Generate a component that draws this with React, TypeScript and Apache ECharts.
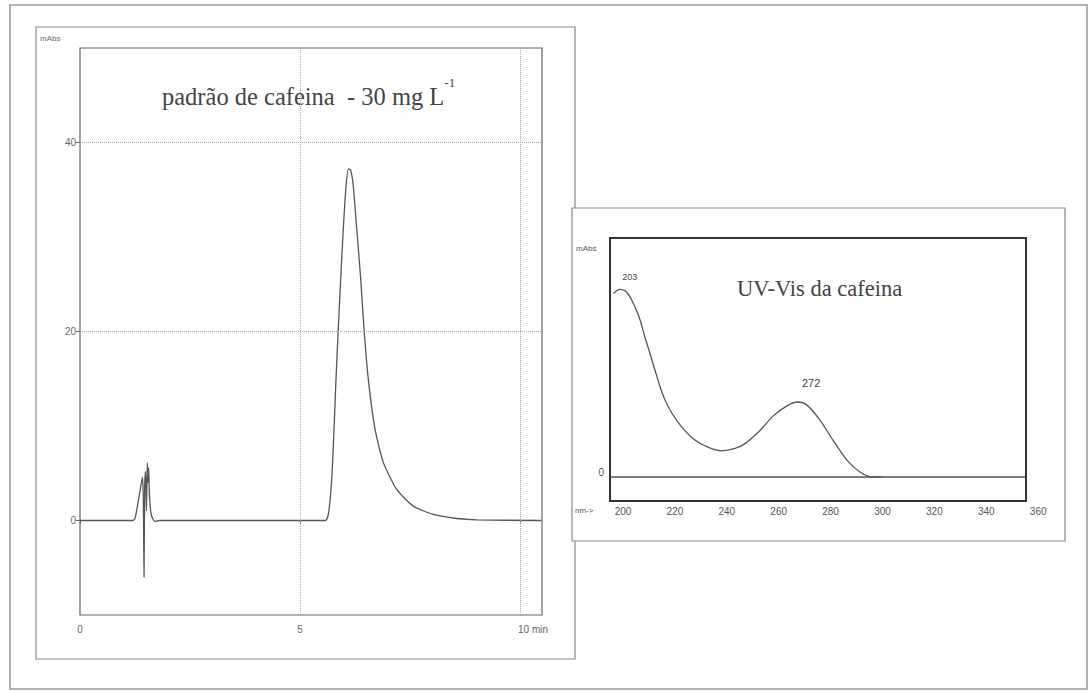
import React, { useEffect, useRef } from "react";
import * as echarts from "echarts";

// Chromatogram (time in min, absorbance in mAbs)
const chromTimes = [0, 1.2, 1.25, 1.36, 1.42, 1.44, 1.455, 1.47, 1.49, 1.51, 1.53, 1.545, 1.56, 1.58, 1.62, 1.7, 1.8, 3.0, 4.5, 5.58, 5.65, 5.72, 5.773, 5.818, 5.87, 5.925, 5.984, 6.045, 6.1, 6.15, 6.211, 6.289, 6.38, 6.455, 6.552, 6.705, 6.893, 7.198, 7.575, 8.03, 8.56, 9.016, 10.48];
const chromValues = [0, 0, 0.2, 3.0, 4.6, 2.0, -6.0, 3.5, 5.2, 1.0, 6.1, 4.0, 5.6, 2.5, 0.6, -0.1, 0, 0, 0, 0, 0.8, 4.35, 9.66, 14.96, 20.27, 25.57, 30.87, 35.3, 37.2, 37.1, 35.4, 30.87, 25.57, 20.27, 14.96, 9.66, 6.15, 3.29, 1.52, 0.64, 0.21, 0.07, 0];
const chromXTicks = [0, 5, 10];
const chromYTicks = [0, 20, 40];
const chromGridX = [5, 10];
const chromGridY = [20, 40];

// UV-Vis spectrum (wavelength nm, absorbance)
const specNm = [196.3, 198.8, 200.8, 202.7, 204.6, 206.6, 208.5, 210.4, 212.3, 214.3, 216.2, 218.8, 222.6, 227.7, 232.9, 238.0, 243.2, 247.0, 252.8, 257.8, 263.2, 267.1, 270.9, 275.9, 280.9, 286.3, 291.3, 296.3, 300.2];
const specAbs = [76.8, 78.5, 77.9, 75.4, 71.2, 65.7, 58.4, 51.7, 44.8, 37.8, 32.2, 26.8, 21.0, 15.5, 12.4, 11.0, 12.0, 14.0, 19.5, 25.5, 29.8, 31.4, 30.1, 23.8, 15.5, 7.1, 2.1, 0, 0];
const specXTicks = [200, 220, 240, 260, 280, 300, 320, 340, 360];
const specYTicks = [0];
const specPeakNm = [198.8, 267.1];
const specPeakAbs = [78.5, 31.4];
const specPeakLabels = ["203", "272"];

const SANS = "Liberation Sans, Arial, sans-serif";
const SERIF = "Liberation Serif, Times New Roman, serif";

export default function App() {
  const ref = useRef<HTMLDivElement>(null);
  useEffect(() => {
    if (!ref.current) return;
    const chart = echarts.init(ref.current, undefined, { renderer: "svg" });
    const chromData = chromTimes.map((t, i) => [t, chromValues[i]]);
    const specData = specNm.map((n, i) => [n, specAbs[i]]);
    const peakOffsets = [[10, -12], [14, -19]];
    const peakSizes = [9, 11];
    chart.setOption({
      animation: false,
      backgroundColor: "#fff",
      grid: [
        { left: 80, top: 48, width: 462, height: 567, show: true, borderColor: "#666", borderWidth: 1.2, backgroundColor: "transparent" },
        { left: 610, top: 238, width: 428.2, height: 263 },
      ],
      xAxis: [
        {
          type: "value", gridIndex: 0, min: 0, max: 10.5,
          axisLine: { show: false },
          axisTick: { show: true, customValues: chromXTicks, length: 3, lineStyle: { color: "#666" } },
          axisLabel: {
            customValues: chromXTicks, color: "#666", fontSize: 10, fontFamily: SANS, margin: 9,
            formatter: (v: number) => (v === 10 ? "{a|10 min}" : String(v)),
            rich: { a: { padding: [0, 0, 0, 26], color: "#666", fontSize: 10, fontFamily: SANS } },
          },
          splitLine: { show: false },
        },
        {
          type: "value", gridIndex: 1, min: 195, max: 360,
          axisLine: { show: false },
          axisTick: { show: false },
          axisLabel: { customValues: specXTicks, color: "#555", fontSize: 10, fontFamily: SANS, margin: 5 },
          splitLine: { show: false },
        },
      ],
      yAxis: [
        {
          type: "value", gridIndex: 0, min: -10, max: 50,
          axisLine: { show: false },
          axisTick: { show: true, customValues: chromYTicks, length: 4, lineStyle: { color: "#666" } },
          axisLabel: { customValues: chromYTicks, color: "#666", fontSize: 10, fontFamily: SANS, margin: 4 },
          splitLine: { show: false },
        },
        {
          type: "value", gridIndex: 1, min: -10, max: 100,
          axisLine: { show: false },
          axisTick: { show: false },
          axisLabel: { customValues: specYTicks, color: "#555", fontSize: 10, fontFamily: SANS, margin: 6, verticalAlign: "bottom" },
          splitLine: { show: false },
        },
      ],
      series: [
        {
          type: "line", xAxisIndex: 0, yAxisIndex: 0, data: chromData,
          showSymbol: false, smooth: 0.2,
          lineStyle: { color: "#555", width: 1.3 },
          markLine: {
            silent: true, symbol: "none", label: { show: false },
            lineStyle: { type: "dotted", color: "#aaa", width: 1 },
            data: [
              ...chromGridY.map((y) => ({ yAxis: y })),
              ...chromGridX.map((x) => ({ xAxis: x })),
            ],
          },
        },
        {
          type: "line", xAxisIndex: 1, yAxisIndex: 1, data: specData,
          showSymbol: false, smooth: 0.3,
          lineStyle: { color: "#555", width: 1.3 },
          markLine: {
            silent: true, symbol: "none", label: { show: false },
            lineStyle: { type: "solid", color: "#555", width: 1.5 },
            data: [[{ coord: [195, 0] }, { coord: [355.3, 0] }]],
          },
          markPoint: {
            symbol: "circle", symbolSize: 0, silent: true,
            data: specPeakNm.map((n, i) => ({
              coord: [n, specPeakAbs[i]],
              value: specPeakLabels[i],
              label: { show: true, formatter: specPeakLabels[i], offset: peakOffsets[i], fontSize: peakSizes[i], color: "#444", fontFamily: SANS },
            })),
          },
        },
      ],
      graphic: [
        { type: "rect", shape: { x: 10, y: 5, width: 1077, height: 684 }, style: { fill: "none", stroke: "#999", lineWidth: 1.5 } },
        { type: "rect", shape: { x: 36, y: 27, width: 539, height: 632 }, style: { fill: "none", stroke: "#888", lineWidth: 1.2 } },
        { type: "rect", shape: { x: 572, y: 208, width: 493, height: 333 }, style: { fill: "#fff", stroke: "#888", lineWidth: 1.2 } },
        { type: "rect", z: 100, shape: { x: 610, y: 238, width: 416, height: 263 }, style: { fill: "none", stroke: "#333", lineWidth: 2 } },
        { type: "text", x: 40, y: 38, style: { text: "mAbs", fontSize: 8, fill: "#666", fontFamily: SANS, verticalAlign: "middle" } },
        { type: "text", x: 576, y: 248, style: { text: "mAbs", fontSize: 8, fill: "#555", fontFamily: SANS, verticalAlign: "middle" } },
        { type: "text", x: 575, y: 510, style: { text: "nm->", fontSize: 8, fill: "#555", fontFamily: SANS, verticalAlign: "middle" } },
        {
          type: "text", x: 162, y: 96,
          style: {
            text: "{m|padrão de cafeina  - 30 mg L}{s|-1}",
            verticalAlign: "middle", align: "left",
            rich: {
              m: { fontSize: 24.5, fontFamily: SERIF, fill: "#444", lineHeight: 40, verticalAlign: "middle" },
              s: { fontSize: 13, fontFamily: SERIF, fill: "#444", lineHeight: 16, verticalAlign: "top" },
            },
          },
        },
        { type: "text", x: 737, y: 288, style: { text: "UV-Vis da cafeina", fontSize: 22.5, fontFamily: SERIF, fill: "#444", verticalAlign: "middle" } },
      ],
    });
    return () => chart.dispose();
  }, []);
  return <div ref={ref} style={{ position: "fixed", left: 0, top: 0, width: 1091, height: 691 }} />;
}
